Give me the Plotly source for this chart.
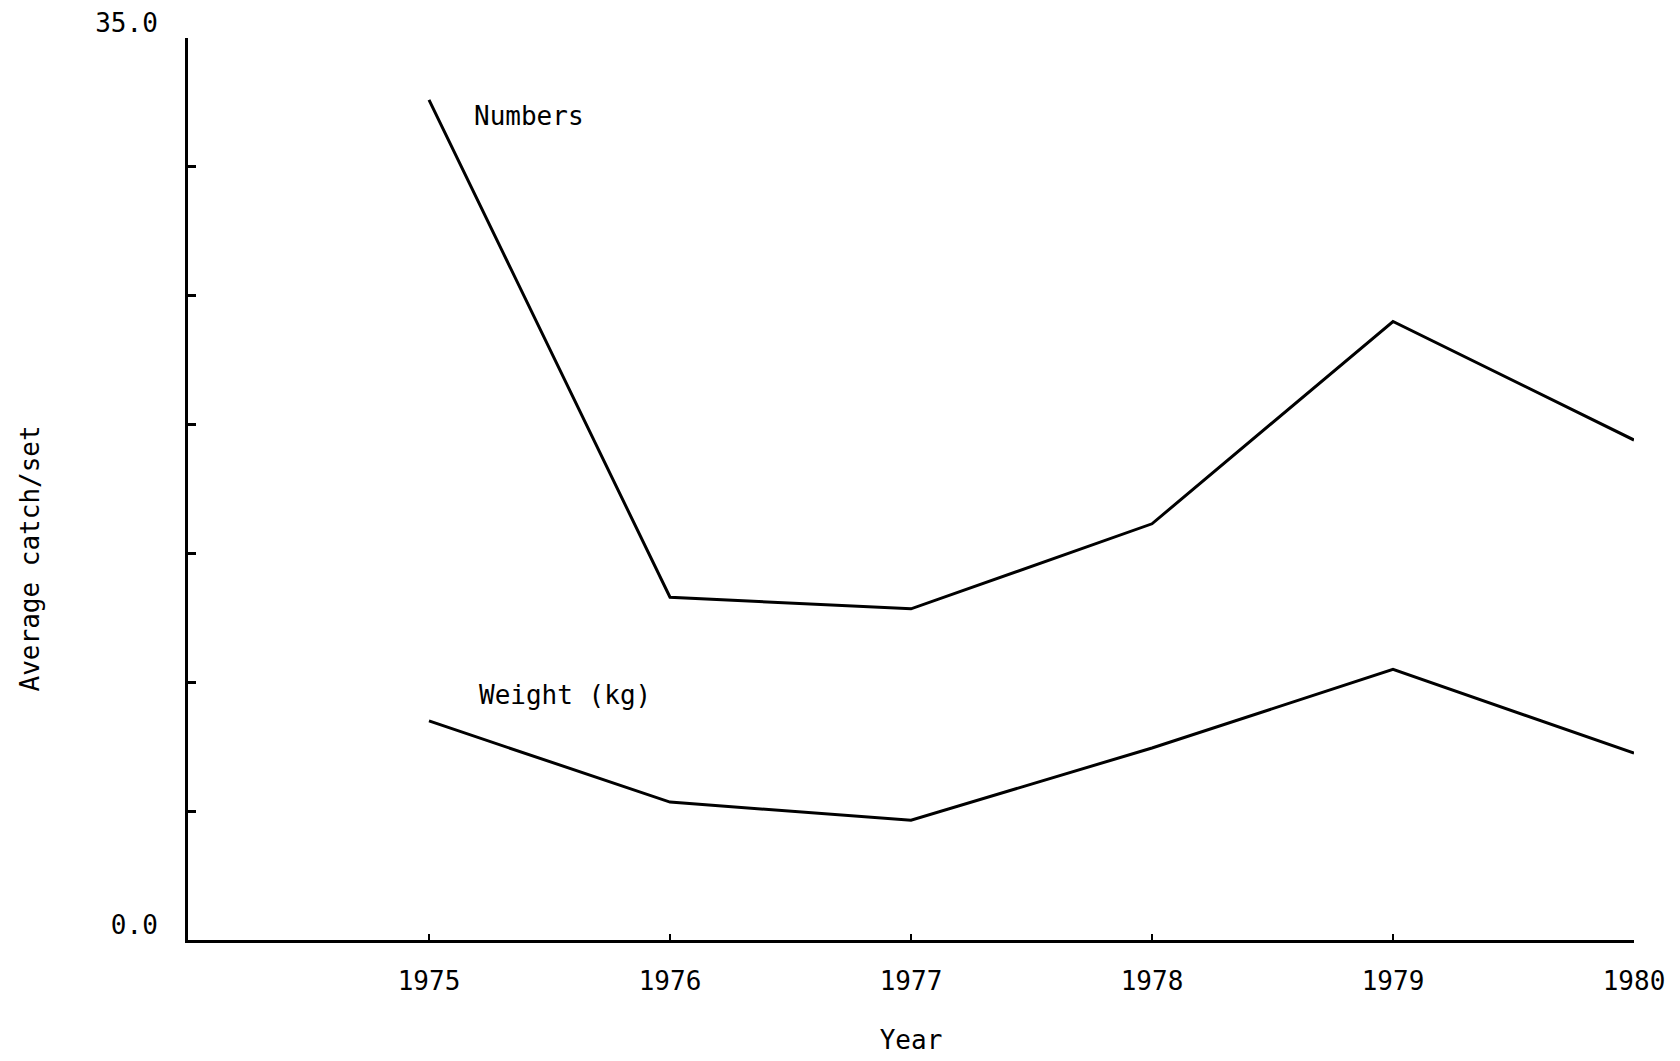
import plotly.graph_objects as go

years = [1975, 1976, 1977, 1978, 1979, 1980]
numbers = [32.6, 13.3, 12.85, 16.15, 24.0, 19.4]
weight_kg = [8.5, 5.35, 4.65, 7.45, 10.5, 7.25]
y_tick_vals = [0, 5, 10, 15, 20, 25, 30, 35]
y_tick_text = ["0.0", "", "", "", "", "", "", "35.0"]
x_tick_text = ["1975", "1976", "1977", "1978", "1979", "1980"]

FONT = "DejaVu Sans Mono"
FS = 26

fig = go.Figure()
fig.add_trace(go.Scatter(x=years, y=numbers, mode="lines",
                         line=dict(color="black", width=3), name="Numbers"))
fig.add_trace(go.Scatter(x=years, y=weight_kg, mode="lines",
                         line=dict(color="black", width=3), name="Weight (kg)"))

fig.add_annotation(x=1975.18, y=32.6, text="Numbers", showarrow=False,
                   xanchor="left", yanchor="middle", yshift=-16,
                   font=dict(family=FONT, size=FS, color="black"))
fig.add_annotation(x=1975.2, y=9.5, text="Weight (kg)", showarrow=False,
                   xanchor="left", yanchor="middle",
                   font=dict(family=FONT, size=FS, color="black"))
# y-axis title (placed lower than centre, as in the original)
fig.add_annotation(xref="paper", yref="paper", x=0, y=0.423, xshift=-158,
                   text="Average catch/set", textangle=-90, showarrow=False,
                   xanchor="center", yanchor="middle",
                   font=dict(family=FONT, size=FS, color="black"))

fig.update_layout(
    width=1680, height=1061,
    margin=dict(l=180, r=54, t=30, b=129),
    paper_bgcolor="white", plot_bgcolor="white",
    showlegend=False,
    font=dict(family=FONT, size=FS, color="black"),
    xaxis=dict(range=[1974, 1980], tickvals=years, ticktext=x_tick_text,
               ticks="inside", ticklen=6, tickwidth=2, tickcolor="black",
               showline=True, linecolor="black", linewidth=3,
               showgrid=False, zeroline=False, ticklabelstandoff=16,
               automargin=False,
               title=dict(text="Year", standoff=36,
                          font=dict(family=FONT, size=FS))),
    yaxis=dict(range=[0, 35], tickvals=y_tick_vals, ticktext=y_tick_text,
               ticks="inside", ticklen=8, tickwidth=3, tickcolor="black",
               showline=True, linecolor="black", linewidth=3,
               showgrid=False, zeroline=False, ticklabelshift=-15,
               ticklabelstandoff=22, automargin=False,
               ticklabeloverflow="allow"),
)

fig.write_html("out.html")
